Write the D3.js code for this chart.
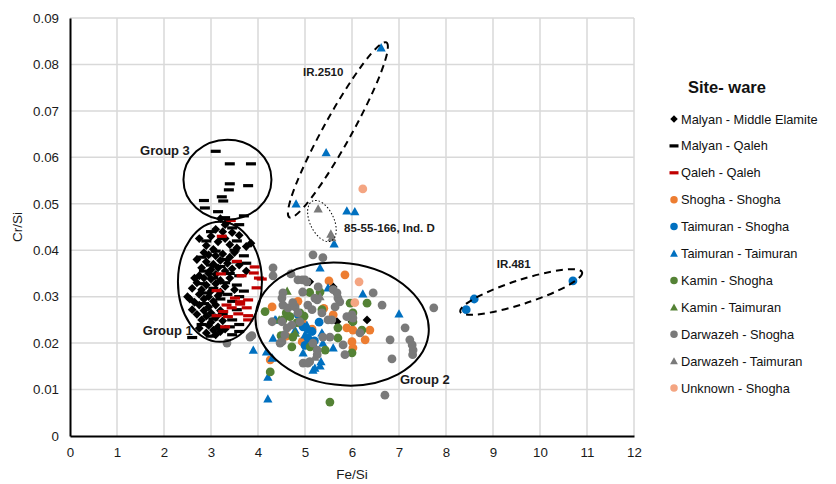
<!DOCTYPE html>
<html><head><meta charset="utf-8">
<script src="https://cdn.jsdelivr.net/npm/d3@7"></script>
<style>
body{margin:0;background:#fff;}
text{font-family:"Liberation Sans",Arial,sans-serif;}
</style></head>
<body><svg id="c" width="836" height="484"></svg>
<script>
// ---------- DATA (Fe/Si, Cr/Si) ----------
const malyanME = [
 [3.2,0.0468],[3.3,0.0455],[3.35,0.0462],[3.1,0.0445],[3.25,0.0440],[3.45,0.0438],[2.75,0.0425],[3.0,0.0430],[3.6,0.0432],[3.3,0.0425],[3.15,0.0418],[2.9,0.0410],[3.4,0.0412],[3.55,0.0405],[3.05,0.0402],[3.75,0.0408],
 [2.85,0.0395],[2.95,0.0390],[3.1,0.0388],[3.25,0.0392],[3.4,0.0385],[3.5,0.0395],[2.7,0.0380],[2.9,0.0375],[3.05,0.0370],[3.2,0.0378],[3.35,0.0372],[3.6,0.0368],[2.8,0.0362],[3.0,0.0358],[3.15,0.0362],[3.3,0.0355],[3.45,0.0360],[2.95,0.0350],[3.1,0.0348],[3.75,0.0355],[2.75,0.0345],
 [2.85,0.0340],[3.0,0.0338],[3.2,0.0335],[3.4,0.0340],[2.7,0.0330],[2.9,0.0325],[3.1,0.0328],[3.3,0.0322],[2.6,0.0318],[2.8,0.0315],[3.0,0.0312],[3.2,0.0310],[2.75,0.0305],[2.95,0.0300],[3.15,0.0302],[3.5,0.0315],[2.55,0.0295],[2.85,0.0295],
 [2.65,0.0288],[3.05,0.0290],[2.75,0.0282],[2.95,0.0278],[3.1,0.0282],[2.6,0.0272],[2.85,0.0270],[3.0,0.0265],[3.2,0.0270],[2.7,0.0262],[2.9,0.0258],[3.1,0.0255],[2.8,0.0250],[3.0,0.0245],[3.25,0.0248],[2.95,0.0238],
 [3.15,0.0235],[2.75,0.0232],[3.05,0.0228],[3.2,0.0225],[3.1,0.0218],[2.9,0.0222],[3.3,0.0230],[3.85,0.0415],[2.5,0.0300],[2.65,0.0340],
 [5.1,0.0332],[5.6,0.0321],[5.68,0.0246],[6.0,0.0246],[6.32,0.0250]
];
const malyanQaleh = [
 [3.1,0.0613],[3.4,0.0586],[3.85,0.0586],[3.4,0.0543],[3.79,0.0539],[3.38,0.0530],[2.85,0.0507],[3.23,0.0515],[3.26,0.0506],[2.87,0.0491],[3.15,0.0483],[3.7,0.0474],
 [3.3,0.0470],[3.6,0.0455],[3.45,0.0448],[3.0,0.0440],[3.55,0.0420],[3.25,0.0425],[2.9,0.0420],[3.5,0.0400],[3.1,0.0398],[3.7,0.0388],[2.8,0.0385],[3.3,0.0380],[3.55,0.0375],[3.0,0.0368],[3.2,0.0365],[3.75,0.0372],[2.85,0.0355],[3.4,0.0350],[3.6,0.0345],[3.05,0.0340],[3.3,0.0330],[2.8,0.0328],[3.55,0.0325],[3.05,0.0318],[3.7,0.0312],[3.35,0.0305],[2.9,0.0308],[3.6,0.0300],[3.2,0.0295],[3.45,0.0290],[2.85,0.0285],[3.55,0.0272],[3.25,0.0262],[3.45,0.0250],[3.05,0.0252],[3.6,0.0240],[2.8,0.0240],[3.4,0.0235],[3.0,0.0215],[3.6,0.0225],[2.6,0.0212],[3.45,0.0218]
];
const qalehQaleh = [
 [3.42,0.0464],[3.23,0.0430],[3.55,0.0376],[3.21,0.0349],[3.65,0.0345],[3.91,0.0351],[3.93,0.0364],[4.02,0.0340],[3.12,0.0313],[3.51,0.0297],[3.79,0.0293],[3.62,0.0289],[3.33,0.0282],[3.62,0.0284],[3.76,0.0276],[3.44,0.0276],[3.26,0.0268],[3.58,0.0263],[3.12,0.0259],[3.36,0.0257],[3.79,0.0259],[3.30,0.0235],[3.79,0.0250],[4.08,0.0338],[3.97,0.0319]
];
const shoghaShogha = [
 [5.85,0.0347],[5.51,0.0334],[4.3,0.0278],[5.6,0.0261],[4.94,0.0246],[5.89,0.0233],[6.02,0.0228],[6.38,0.0228],[6.28,0.0207],[6.02,0.0190],[6.0,0.0203],[4.94,0.0239],[5.0,0.0200],[4.26,0.0164],[4.94,0.0203],[5.15,0.0230],[4.6,0.0215],[5.4,0.0275],[4.85,0.0290]
];
const taimuranShogha = [
 [8.43,0.0272],[8.6,0.0295],[10.7,0.0334],[5.06,0.0211],[4.96,0.0235],[5.15,0.0225],[4.85,0.0262],[5.3,0.0245],[5.0,0.0195],[5.2,0.0205]
];
const taimuranTaimuran = [
 [6.62,0.0836],[5.45,0.0610],[4.81,0.0500],[5.89,0.0485],[6.06,0.0483],[5.62,0.0414],[5.32,0.0362],[5.49,0.0319],[6.23,0.0306],[7.0,0.0263],[4.38,0.0250],[3.9,0.0185],[4.18,0.0181],[4.3,0.0168],[4.21,0.0127],[4.21,0.0080],[4.32,0.0211],[4.96,0.0179],[5.21,0.0146],[5.32,0.0151],[5.6,0.0190],[4.79,0.0228],[5.06,0.0228],[5.38,0.0218],[5.34,0.0160],[5.0,0.0218],[5.17,0.0142],[5.38,0.0200],[4.79,0.0222],[5.04,0.0239],[5.36,0.0222],[4.36,0.0250],[5.2,0.0195]
];
const kaminShogha = [
 [5.53,0.0073],[4.15,0.0268],[5.1,0.0309],[5.32,0.0310],[5.96,0.0286],[6.32,0.0286],[5.36,0.0272],[6.02,0.0265],[6.02,0.0246],[5.7,0.0233],[6.21,0.0228],[4.68,0.0257],[4.83,0.0244],[4.53,0.0250],[4.89,0.0265],[4.74,0.0213],[4.72,0.0192],[5.43,0.0185],[5.7,0.0211],[4.26,0.0138],[6.0,0.0179],[5.11,0.0192],[4.49,0.0216],[4.6,0.0265],[4.98,0.0258]
];
const kaminTaimuran = [
 [4.62,0.0312],[4.79,0.0222],[4.45,0.0250],[4.7,0.0240]
];
const darwazehShogha = [
 [7.74,0.0276],[6.45,0.0308],[6.64,0.0282],[7.13,0.0233],[6.81,0.0207],[7.23,0.0207],[7.28,0.0196],[7.3,0.0185],[7.29,0.0175],[6.85,0.0166],[6.7,0.0088],[5.17,0.0390],[5.38,0.0384],[4.32,0.0362],[4.32,0.0345],[4.7,0.0349],[3.87,0.0216],[3.34,0.0200],[3.83,0.0213],
 [4.85,0.0336],[5.0,0.0336],[5.28,0.0321],[5.21,0.0297],[4.51,0.0297],[4.53,0.0282],[4.64,0.0276],[4.79,0.0278],[4.85,0.0265],[5.06,0.0282],[4.51,0.0246],[4.72,0.0239],[4.57,0.0218],[4.47,0.0200],[5.17,0.0200],[5.53,0.0213],[5.81,0.0196],[5.85,0.0175],[4.96,0.0157],[5.1,0.0160],[5.26,0.0175],[5.57,0.0250],[5.6,0.0315],[5.7,0.0297],[6.0,0.0261],[4.3,0.0246],
 [4.94,0.0336],[5.04,0.0332],[4.53,0.0308],[4.74,0.0287],[5.26,0.0293],[5.68,0.0308],[5.74,0.0289],[5.64,0.0278],[5.49,0.0250],[6.02,0.0254],[6.17,0.0222],[5.36,0.0265],[4.62,0.0233],[5.26,0.0185],[5.06,0.0157],[5.89,0.0257],[4.89,0.0246],[4.51,0.0203],[5.38,0.0213],[4.95,0.0310],[5.15,0.0272]
];
const darwazehTaimuran = [
 [5.28,0.0489],[5.55,0.0435],[5.57,0.0427],[4.72,0.0351],[5.21,0.0170],[5.32,0.0300]
];
const unknownShogha = [
 [6.23,0.0532],[6.15,0.0332],[6.06,0.0287]
];
const seriesNames = ["Malyan - Middle Elamite","Malyan - Qaleh","Qaleh - Qaleh","Shogha - Shogha","Taimuran - Shogha","Taimuran - Taimuran","Kamin - Shogha","Kamin - Taimuran","Darwazeh - Shogha","Darwazeh - Taimuran","Unknown - Shogha"];
const seriesData = [malyanME,malyanQaleh,qalehQaleh,shoghaShogha,taimuranShogha,taimuranTaimuran,kaminShogha,kaminTaimuran,darwazehShogha,darwazehTaimuran,unknownShogha];
const seriesShape = ["diamond","dash","dash","circle","circle","triangle","circle","triangle","circle","triangle","circle"];
const seriesColor = ["#000000","#000000","#C00000","#ED7D31","#0070C0","#0070C0","#548235","#548235","#7A7A7A","#7A7A7A","#F4A582"];
const xTicks = [0,1,2,3,4,5,6,7,8,9,10,11,12];
const yTicks = [0,0.01,0.02,0.03,0.04,0.05,0.06,0.07,0.08,0.09];
// annotation ellipses: centre in data units
const ellipseCenters = [[3.19,0.0332],[3.35,0.0552],[5.79,0.0241],[5.70,0.0659],[5.36,0.0463],[9.60,0.0310]];
const labelTexts = ["Group 3","Group 1","Group 2","IR.2510","85-55-166, Ind. D","IR.481"];
const labelAnchors = [[1.49,0.0604],[1.55,0.0218],[7.02,0.0112],[4.96,0.0776],[5.83,0.0440],[9.08,0.0362]];

// ---------- CHART ----------
const svg = d3.select("#c");
const x = d3.scaleLinear().domain([0,12]).range([70,634]);
const y = d3.scaleLinear().domain([0,0.09]).range([436,18]);

// gridlines
svg.append("g").selectAll("line").data(xTicks.slice(1)).join("line")
 .attr("x1",d=>x(d)).attr("x2",d=>x(d)).attr("y1",y(0)).attr("y2",y(0.09))
 .attr("stroke","#d9d9d9").attr("stroke-width",1.5);
svg.append("g").selectAll("line").data(yTicks.slice(1)).join("line")
 .attr("x1",x(0)).attr("x2",x(12)).attr("y1",d=>y(d)).attr("y2",d=>y(d))
 .attr("stroke","#d9d9d9").attr("stroke-width",1.5);

// axes
const xAxis = d3.axisBottom(x).tickValues(xTicks).tickSize(0).tickPadding(12).tickFormat(d3.format("d"));
const gx = svg.append("g").attr("transform",`translate(0,${y(0)})`).call(xAxis);
const yAxis = d3.axisLeft(y).tickValues(yTicks).tickSize(0).tickPadding(11).tickFormat(d=>d===0?"0":d3.format(".2f")(d));
const gy = svg.append("g").attr("transform",`translate(${x(0)},0)`).call(yAxis);
[gx,gy].forEach(g=>{
 g.select(".domain").attr("stroke","#000").attr("stroke-width",2);
 g.selectAll("text").attr("font-size",13.3).attr("fill","#1a1a1a").attr("font-family","Liberation Sans, Arial, sans-serif");
});
svg.append("text").attr("x",x(6)).attr("y",479).attr("text-anchor","middle").attr("font-size",13.5).attr("fill","#1a1a1a").text("Fe/Si");
svg.append("text").attr("transform",`translate(22,${y(0.045)}) rotate(-90)`).attr("text-anchor","middle").attr("font-size",13.5).attr("fill","#1a1a1a").text("Cr/Si");

// marker drawing
function marker(sel, shape, color, scale=1){
 if(shape==="diamond"){
  const s=4.4*scale;
  sel.append("path").attr("d",`M0,${-s}L${s},0L0,${s}L${-s},0Z`).attr("fill",color);
 } else if(shape==="triangle"){
  const s=4.6*scale;
  sel.append("path").attr("d",`M0,${-s}L${s},${s*0.8}L${-s},${s*0.8}Z`).attr("fill",color);
 } else if(shape==="circle"){
  sel.append("circle").attr("r",4.4*scale).attr("fill",color);
 } else {
  sel.append("rect").attr("x",-5*scale).attr("y",-1.6).attr("width",10*scale).attr("height",3.2).attr("fill",color);
 }
}

const pts = svg.append("g");
seriesData.forEach((data,i)=>{
 const g = pts.append("g");
 data.forEach(d=>{
  const m = g.append("g").attr("transform",`translate(${x(d[0])},${y(d[1])})`);
  marker(m, seriesShape[i], seriesColor[i]);
 });
});

// ellipses (radii in px, rotation, style)
const ellipseStyle = [
 {rx:42,ry:60,rot:0,dash:null,w:2},
 {rx:44,ry:40,rot:0,dash:null,w:2},
 {rx:87,ry:61,rot:7,dash:null,w:2},
 {rx:100,ry:14,rot:-61,dash:"7,5",w:2},
 {rx:12,ry:22,rot:-25,dash:"1.5,2",w:1},
 {rx:64,ry:12,rot:-18,dash:"7,5",w:2}
];
svg.append("g").selectAll("ellipse").data(ellipseCenters).join("ellipse")
 .attr("cx",0).attr("cy",0)
 .attr("rx",(d,i)=>ellipseStyle[i].rx).attr("ry",(d,i)=>ellipseStyle[i].ry)
 .attr("transform",(d,i)=>`translate(${x(d[0])},${y(d[1])}) rotate(${ellipseStyle[i].rot})`)
 .attr("fill","none").attr("stroke","#000")
 .attr("stroke-width",(d,i)=>ellipseStyle[i].w)
 .attr("stroke-dasharray",(d,i)=>ellipseStyle[i].dash);

// labels
const labelSize = [13,13,13,11.5,11.5,11.5];
svg.append("g").selectAll("text").data(labelAnchors).join("text")
 .attr("x",d=>x(d[0])).attr("y",d=>y(d[1])).attr("font-size",(d,i)=>labelSize[i]).attr("font-weight","bold").attr("fill","#1a1a1a").text((d,i)=>labelTexts[i]);

// legend
const lg = svg.append("g");
lg.append("text").attr("x",688).attr("y",93).attr("font-size",16.5).attr("font-weight","bold").attr("fill","#111").text("Site- ware");
seriesNames.forEach((n,i)=>{
 const yy = 119 + i*26.9;
 const m = lg.append("g").attr("transform",`translate(674,${yy})`);
 marker(m, seriesShape[i], seriesColor[i], seriesShape[i]==="dash"?0.9:0.85);
 lg.append("text").attr("x",681).attr("y",yy+4.5).attr("font-size",12.8).attr("fill","#111").text(n);
});
</script></body></html>
